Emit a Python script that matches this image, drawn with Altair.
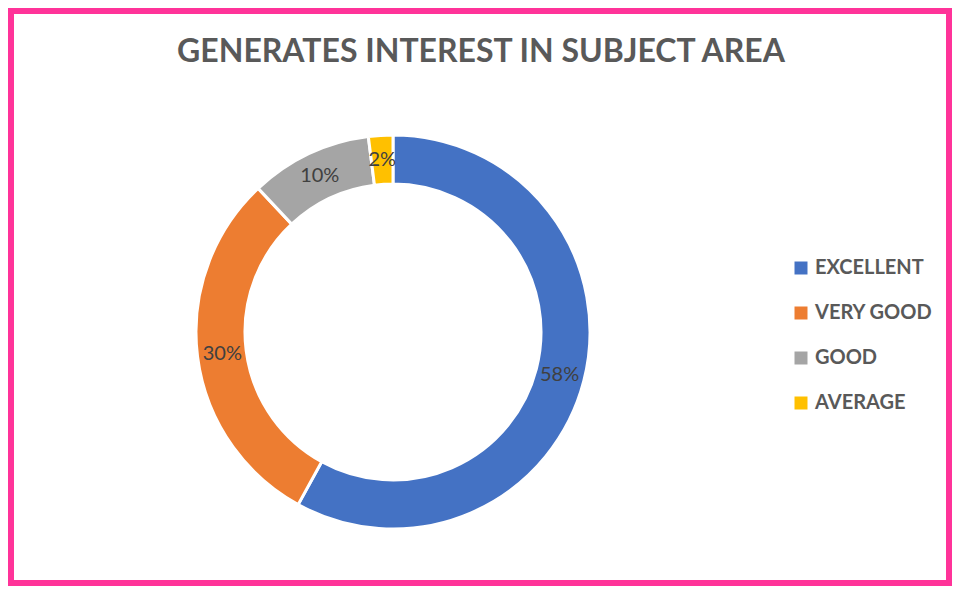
import altair as alt
import pandas as pd

categories = ["EXCELLENT", "VERY GOOD", "GOOD", "AVERAGE"]
values = [58, 30, 10, 2]
labels = ["58%", "30%", "10%", "2%"]
colors = ["#4472C4", "#ED7D31", "#A5A5A5", "#FFC000"]
title_text = "GENERATES INTEREST IN SUBJECT AREA"

df = pd.DataFrame({
    "category": categories,
    "value": values,
    "label": labels,
    "order": list(range(len(categories))),
})

W, H = 944, 578
CX, CY = 385, 324

base = alt.Chart(df).encode(
    theta=alt.Theta("value:Q", stack=True),
    order=alt.Order("order:Q", sort="ascending"),
)

arcs = base.mark_arc(outerRadius=197, innerRadius=148, stroke="white", strokeWidth=3).encode(
    color=alt.Color(
        "category:N",
        sort=categories,
        scale=alt.Scale(domain=categories, range=colors),
        legend=alt.Legend(
            title=None, orient="none", legendX=783, legendY=250,
            symbolType="square", symbolSize=169, symbolStrokeWidth=0,
            labelFont="Lato", labelFontWeight="bold", labelFontSize=20,
            labelColor="#595959", rowPadding=25, labelOffset=4,
        ),
    ),
    x=alt.value(CX),
    y=alt.value(CY),
)

texts = base.mark_text(radius=172, font="Lato", fontSize=20, color="#404040").encode(
    text="label:N",
    x=alt.value(CX),
    y=alt.value(CY),
)

title = alt.Chart(pd.DataFrame({"t": [title_text]})).mark_text(
    font="Lato", fontWeight="bold", fontSize=32, color="#595959",
    align="center", baseline="alphabetic",
).encode(text="t:N", x=alt.value(473), y=alt.value(54))

chart = alt.layer(arcs, texts, title).properties(
    width=W, height=H, padding=0, autosize=alt.AutoSizeParams(type="none"),
    background="white",
).configure_view(stroke="#FF3399", strokeWidth=12)

chart.save("out.html", embed_options={"renderer": "svg", "actions": False})
